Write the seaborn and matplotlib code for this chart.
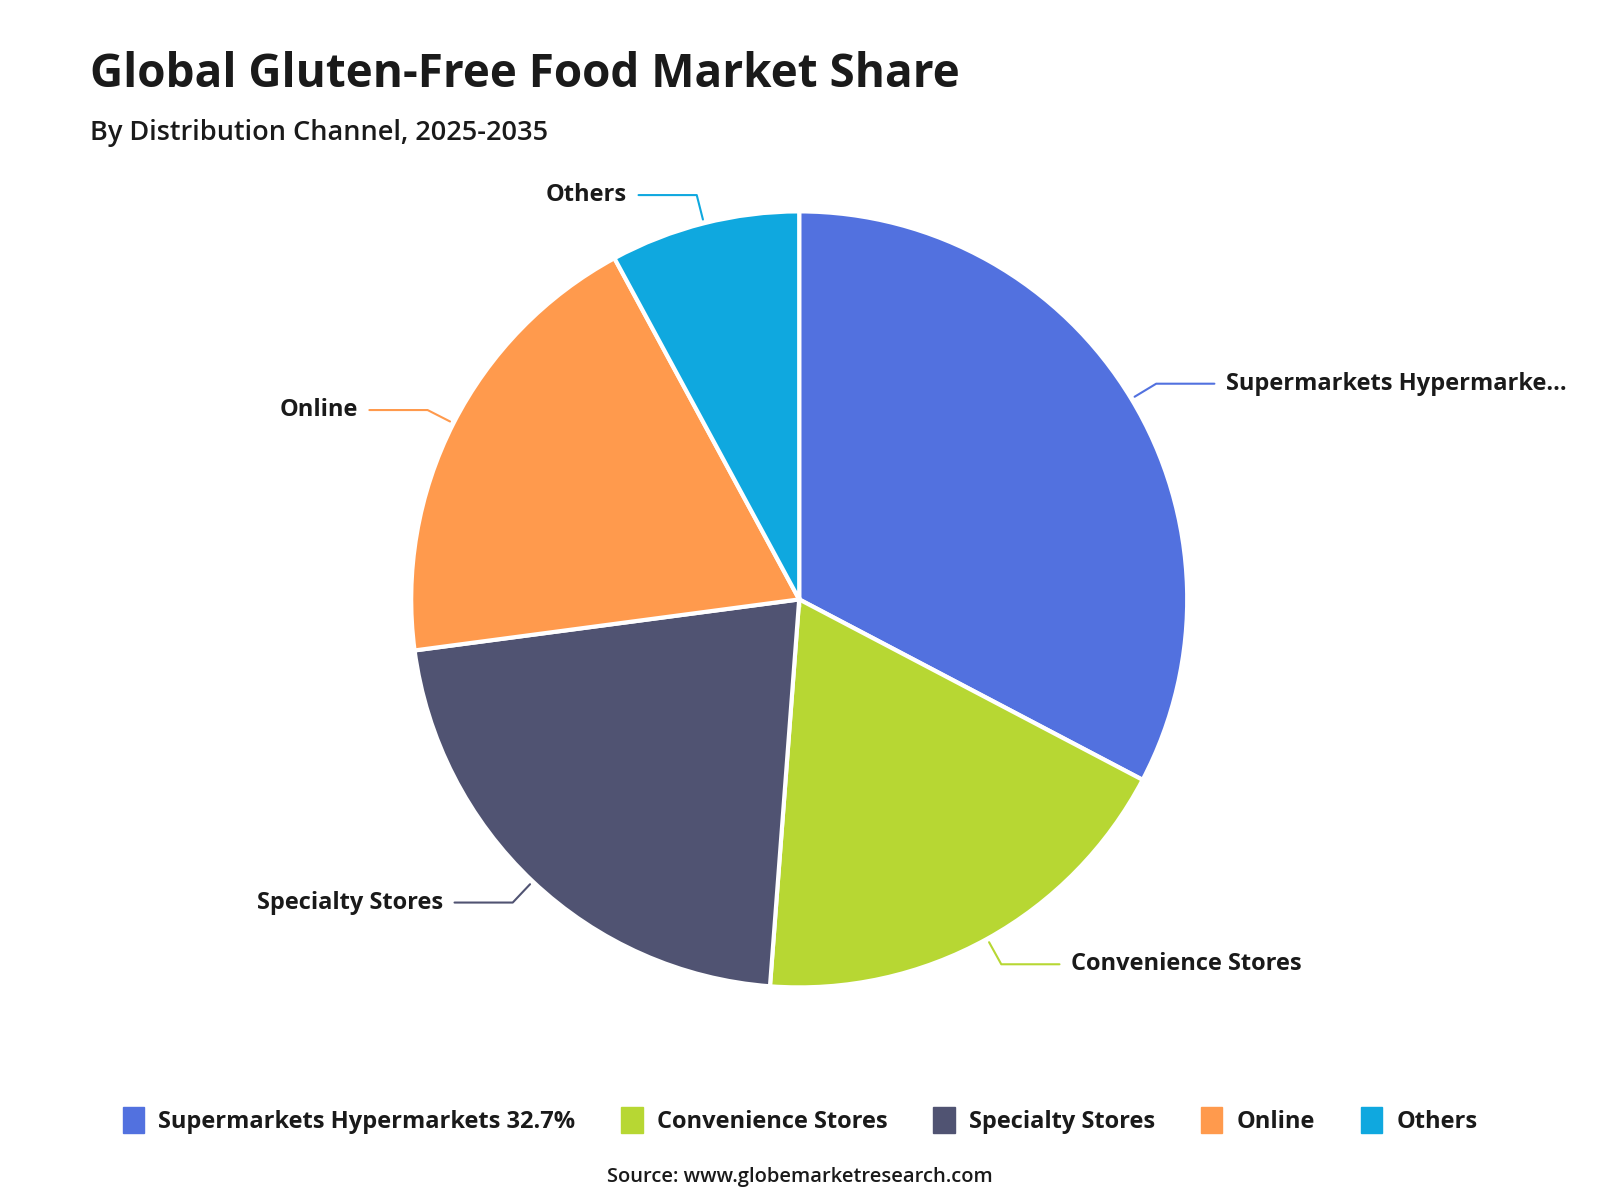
import numpy as np
import matplotlib
matplotlib.use("Agg")
import matplotlib.pyplot as plt
import seaborn as sns
from matplotlib.patches import Patch

# data
channels = ["Supermarkets Hypermarkets", "Convenience Stores", "Specialty Stores", "Online", "Others"]
shares = [32.7, 18.5, 21.7, 19.2, 7.9]
pie_labels = ["Supermarkets Hypermarke...", "Convenience Stores", "Specialty Stores", "Online", "Others"]
legend_labels = ["Supermarkets Hypermarkets 32.7%", "Convenience Stores", "Specialty Stores", "Online", "Others"]
colors = ["#5271df", "#b7d733", "#505372", "#ff9a4d", "#0fa8df"]

sns.set_theme(style="white")
plt.rcParams["font.family"] = ["Open Sans", "DejaVu Sans"]

fig = plt.figure(figsize=(16, 12), dpi=100)
ax = fig.add_axes([0.257, 0.177, 0.485, 0.647])

wedges, _ = ax.pie(shares, colors=colors, startangle=90, counterclock=False,
                   wedgeprops=dict(edgecolor="white", linewidth=3))
ax.set_xlim(-1, 1)
ax.set_ylim(-1, 1)
ax.set_aspect("equal")

# connector lines with an elbow, then label text
for w, lab, col in zip(wedges, pie_labels, colors):
    ang = np.deg2rad((w.theta1 + w.theta2) / 2)
    x0, y0 = 1.01 * np.cos(ang), 1.01 * np.sin(ang)
    x1, y1 = 1.075 * np.cos(ang), 1.075 * np.sin(ang)
    side = 1 if np.cos(ang) >= 0 else -1
    x2 = x1 + side * 0.15
    ax.plot([x0, x1, x2], [y0, y1, y1], color=col, lw=1.5, clip_on=False)
    ax.text(x2 + side * 0.03, y1, lab, ha="left" if side > 0 else "right", va="center",
            fontsize=17, fontweight="bold", color="#1a1a1a", clip_on=False)

fig.text(0.056, 0.938, "Global Gluten-Free Food Market Share", fontsize=33, fontweight="bold",
         color="#1a1a1a", ha="left", va="center")
fig.text(0.056, 0.889, "By Distribution Channel, 2025-2035", fontsize=19.5, fontweight="semibold",
         color="#1a1a1a", ha="left", va="center")

handles = [Patch(facecolor=c, edgecolor=c, label=l) for c, l in zip(colors, legend_labels)]
leg = fig.legend(handles=handles, loc="center", bbox_to_anchor=(0.5, 0.066), ncol=5,
                 frameon=False, handlelength=0.9, handleheight=1.3, handletextpad=0.6,
                 columnspacing=1.95, prop=dict(size=17, weight="bold"))
for t in leg.get_texts():
    t.set_color("#1a1a1a")

fig.text(0.5, 0.019, "Source: www.globemarketresearch.com", fontsize=14.5, fontweight="semibold",
         color="#1a1a1a", ha="center", va="center")

fig.savefig("out.png", dpi=100, facecolor="white")
